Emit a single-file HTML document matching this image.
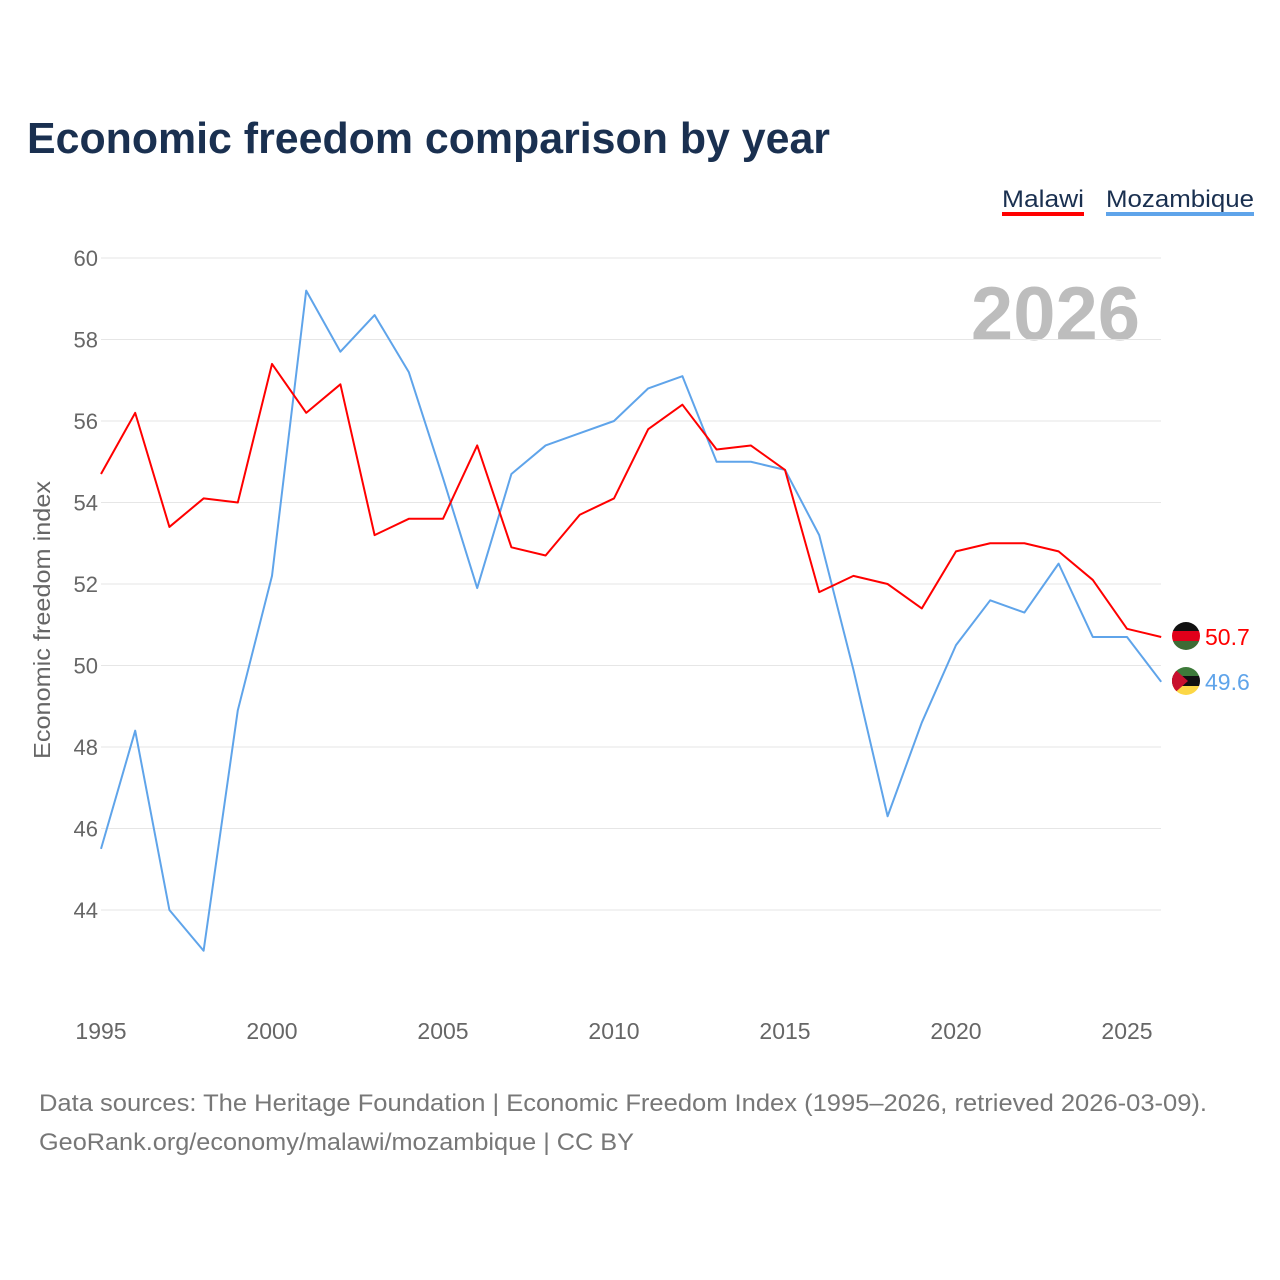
<!DOCTYPE html>
<html><head><meta charset="utf-8">
<style>
body{margin:0;background:#fff;font-family:"Liberation Sans",sans-serif;}
svg{display:block}
</style></head>
<body>
<svg id="chart" width="1280" height="1280" viewBox="0 0 1280 1280">
<defs>
<clipPath id="cMal"><circle cx="1186" cy="636" r="14"/></clipPath>
<clipPath id="cMoz"><circle cx="1186" cy="681" r="14"/></clipPath>
</defs>
<text x="27" y="153" font-size="44" font-weight="bold" fill="#1a3050" textLength="803" lengthAdjust="spacingAndGlyphs">Economic freedom comparison by year</text>
<g>
<text x="1002" y="207" font-size="24" fill="#1a3050" textLength="82" lengthAdjust="spacingAndGlyphs">Malawi</text>
<rect x="1002" y="212" width="82" height="4" fill="#ff0000"/>
<text x="1106" y="207" font-size="24" fill="#1a3050" textLength="148" lengthAdjust="spacingAndGlyphs">Mozambique</text>
<rect x="1106" y="212" width="148" height="4" fill="#5fa4ea"/>
</g>
<text x="1140" y="340" font-size="76" font-weight="bold" fill="#bdbdbd" text-anchor="end">2026</text>
<g id="grid"></g>
<g id="xticks"></g>
<text transform="translate(50,620) rotate(-90)" font-size="23" fill="#666" text-anchor="middle" textLength="278" lengthAdjust="spacingAndGlyphs">Economic freedom index</text>
<g id="series"></g>
<g clip-path="url(#cMal)">
<rect x="1170" y="620" width="32" height="11" fill="#111"/>
<rect x="1170" y="631" width="32" height="10" fill="#e0001a"/>
<rect x="1170" y="641" width="32" height="11" fill="#3d6b35"/>
</g>
<g clip-path="url(#cMoz)">
<rect x="1170" y="665" width="32" height="11" fill="#3d7a3a"/>
<rect x="1170" y="676" width="32" height="10" fill="#111"/>
<rect x="1170" y="686" width="32" height="11" fill="#fcd745"/>
<polygon points="1170,665 1188,681 1170,697" fill="#c8102e"/>
</g>
<text x="39" y="1111" font-size="24" fill="#777" textLength="1168" lengthAdjust="spacingAndGlyphs">Data sources: The Heritage Foundation | Economic Freedom Index (1995–2026, retrieved 2026-03-09).</text>
<text x="39" y="1150" font-size="24" fill="#777" textLength="595" lengthAdjust="spacingAndGlyphs">GeoRank.org/economy/malawi/mozambique | CC BY</text>
</svg>
<script>
const years=[1995,1996,1997,1998,1999,2000,2001,2002,2003,2004,2005,2006,2007,2008,2009,2010,2011,2012,2013,2014,2015,2016,2017,2018,2019,2020,2021,2022,2023,2024,2025,2026];
const malawi=[54.7,56.2,53.4,54.1,54.0,57.4,56.2,56.9,53.2,53.6,53.6,55.4,52.9,52.7,53.7,54.1,55.8,56.4,55.3,55.4,54.8,51.8,52.2,52.0,51.4,52.8,53.0,53.0,52.8,52.1,50.9,50.7];
const mozambique=[45.5,48.4,44.0,43.0,48.9,52.2,59.2,57.7,58.6,57.2,54.6,51.9,54.7,55.4,55.7,56.0,56.8,57.1,55.0,55.0,54.8,53.2,49.9,46.3,48.6,50.5,51.6,51.3,52.5,50.7,50.7,49.6];
const yTicks=[44,46,48,50,52,54,56,58,60];
const xTicks=[1995,2000,2005,2010,2015,2020,2025];
const NS="http://www.w3.org/2000/svg";
const xS=v=>101+(v-1995)*34.2;
const yS=v=>258+(60-v)*40.75;
function mk(tag,attrs,parent){const e=document.createElementNS(NS,tag);for(const k in attrs)e.setAttribute(k,attrs[k]);parent.appendChild(e);return e;}
const grid=document.getElementById('grid');
yTicks.forEach(t=>{
 const l=mk('line',{x1:101,x2:1161,y1:yS(t),y2:yS(t),stroke:'#e6e6e6','stroke-width':1},grid);
 
 
 const tx=mk('text',{x:98,y:yS(t)+8,'font-size':22,fill:'#666','text-anchor':'end'},grid);
 tx.textContent=t;
 
 
});
const xg=document.getElementById('xticks');
xTicks.forEach(t=>{
 const tx=mk('text',{x:xS(t),y:1039,'font-size':23,fill:'#666','text-anchor':'middle'},xg);
 tx.textContent=t;
 
 
});
const sg=document.getElementById('series');
function line(vals,color,name){
 const p=mk('polyline',{points:vals.map((v,i)=>xS(years[i])+','+yS(v)).join(' '),fill:'none',stroke:color,'stroke-width':2,'stroke-linejoin':'round'},sg);
 
 
 const last=vals[vals.length-1];
 const t=mk('text',{x:1205,y:yS(last)+8,'font-size':23,fill:color},sg);
 t.textContent=last.toFixed(1);
 
 
}
line(mozambique,'#5fa4ea','mozambique');
line(malawi,'#ff0000','malawi');
</script>
</body></html>
